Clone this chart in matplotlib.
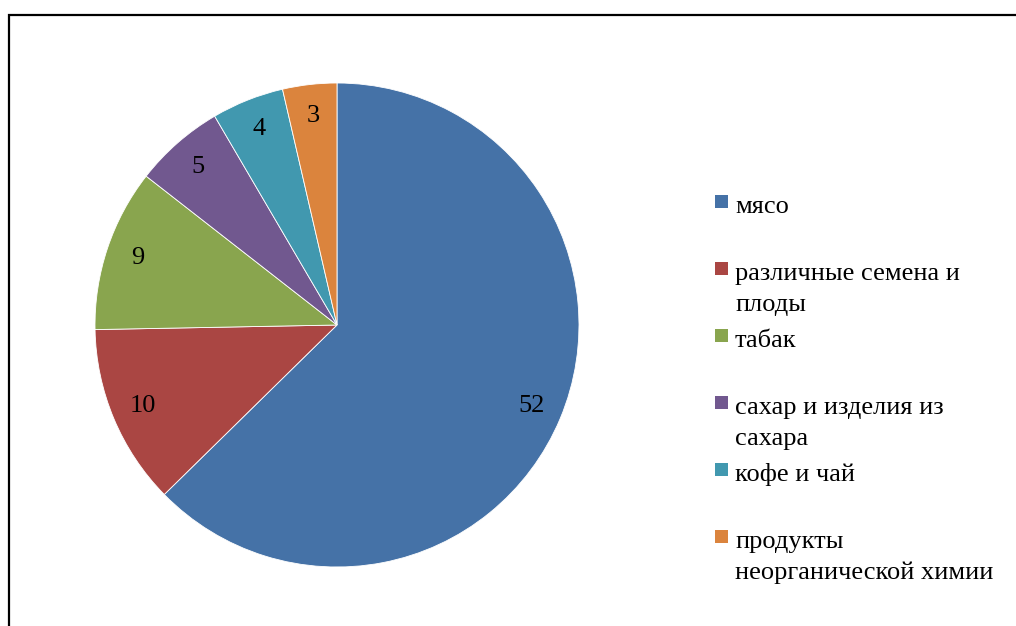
import matplotlib
matplotlib.use("Agg")
import matplotlib.pyplot as plt
from matplotlib.patches import Rectangle

categories = ["мясо", "различные семена и\nплоды", "табак",
              "сахар и изделия из\nсахара", "кофе и чай",
              "продукты\nнеорганической химии"]
values = [52, 10, 9, 5, 4, 3]
colors = ["#4572A7", "#AA4643", "#89A54E", "#71588F", "#4198AF", "#DB843D"]

W, H = 1016, 626
fig = plt.figure(figsize=(W / 100, H / 100), dpi=100)
plt.rcParams['font.family'] = ['Liberation Serif', 'DejaVu Serif']

# outer frame (extends past right/bottom edges)
fig.patches.append(Rectangle((9 / W, -0.1), 1.2, (H - 15) / H + 0.1,
                             transform=fig.transFigure, fill=False,
                             edgecolor="black", linewidth=1.6, clip_on=False))

cx, cy, r = 337, 325, 242
ax = fig.add_axes([(cx - r) / W, (H - cy - r) / H, 2 * r / W, 2 * r / H])
total = sum(values)
ax.pie(values, colors=colors, startangle=90, counterclock=False,
       autopct=lambda p: f"{round(p * total / 100):d}", pctdistance=0.87,
       wedgeprops=dict(edgecolor="white", linewidth=0.6),
       textprops=dict(fontsize=19, color="black"))
ax.set_xlim(-1, 1)
ax.set_ylim(-1, 1)
ax.set_aspect("equal")
ax.axis("off")

# legend
y0, dy, lh = 213, 67, 31
for i, (lab, col) in enumerate(zip(categories, colors)):
    yb = y0 + i * dy
    fig.patches.append(Rectangle((715 / W, (H - yb + 5) / H), 13 / W, 13 / H,
                                 transform=fig.transFigure, facecolor=col,
                                 edgecolor="none"))
    for k, line in enumerate(lab.split("\n")):
        fig.text(735 / W, (H - yb - k * lh) / H, line, fontsize=19,
                 va="baseline", ha="left")

fig.savefig("out.png", dpi=100)
